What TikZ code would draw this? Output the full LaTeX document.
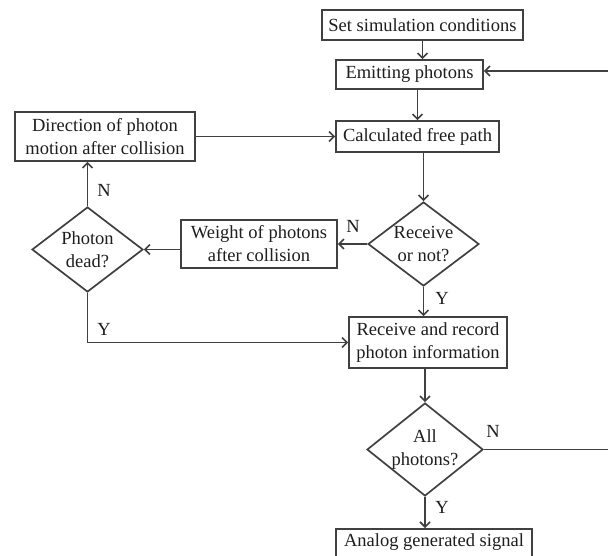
\documentclass[tikz,border=0pt]{standalone}
\usepackage{fontspec}
\setmainfont{Liberation Serif}
\usetikzlibrary{arrows.meta,shapes.geometric}
\definecolor{ln}{HTML}{404040}
\definecolor{tx}{HTML}{1E1E1E}
\tikzset{
  box/.style={draw=ln,line width=1.7pt,rectangle,inner sep=0pt,align=center,text=tx,font=\fontsize{18.5}{23}\selectfont},
  dia/.style={draw=ln,line width=1.7pt,diamond,inner sep=0pt,aspect=1},
  dtext/.style={inner sep=0pt,align=center,text=tx,font=\fontsize{18.5}{23}\selectfont},
  lbl/.style={inner sep=0pt,text=tx,font=\fontsize{18.5}{23}\selectfont},
  conn/.style={draw=ln,line width=1.7pt},
  arr/.style={conn,-{Straight Barb[length=5pt,width=10pt,line width=1.6pt]}}
}
\begin{document}
\begin{tikzpicture}[x=1pt,y=-1pt]
\useasboundingbox (0,0) rectangle (608,555);
\clip (0,0) rectangle (608,555);
\fill[white] (0,0) rectangle (608,555);
% boxes
\node[box,minimum width=201pt,minimum height=30pt] (set) at (422.5,25) {Set simulation conditions};
\node[box,minimum width=147pt,minimum height=29pt] (emit) at (409.5,74.5) {Emitting photons};
\node[box,minimum width=163pt,minimum height=31pt] (calc) at (417.5,136.5) {Calculated free path};
\node[box,minimum width=180pt,minimum height=49pt] (dir) at (105,136.5) {Direction of photon\\motion after collision};
\node[box,minimum width=156pt,minimum height=48pt] (weight) at (259,244) {Weight of photons\\after collision};
\node[box,minimum width=158pt,minimum height=51pt] (rec) at (428,342.5) {Receive and record\\photon information};
\node[box,minimum width=196pt,minimum height=44pt,anchor=north,text depth=22pt] (analog) at (434,528) {Analog generated signal};
% diamonds
\node[dia,minimum width=111pt,minimum height=85pt] (pdead) at (87.5,249.5) {};
\node[dtext] (pdeadt) at (87.5,249.5) {Photon\\dead?};
\node[dia,minimum width=111pt,minimum height=84pt] (recv) at (423.5,244) {};
\node[dtext] (recvt) at (423.5,244) {Receive\\or not?};
\node[dia,minimum width=116pt,minimum height=93pt] (all) at (425,449.5) {};
\node[dtext] (allt) at (425,449.5) {All\\photons?};
% labels
\node[lbl] (l1) at (353,226) {N};
\node[lbl] (l2) at (442,298) {Y};
\node[lbl] (l3) at (104,190) {N};
\node[lbl] (l4) at (104,329) {Y};
\node[lbl] (l5) at (493,431) {N};
\node[lbl] (l6) at (442,507) {Y};
% connectors
\coordinate (rc1) at (612,449.5);
\coordinate (rc2) at (612,71);
\draw[arr] (set.south) -- (set.south |- emit.north);
\draw[arr] (calc.north |- emit.south) -- (calc.north);
\draw[arr] (recv.north |- calc.south) -- (recv.north);
\draw[arr] (recv.west) -- (recv.west -| weight.east);
\draw[arr] (weight.west |- pdead.east) -- (pdead.east);
\draw[arr] (pdead.north) -- (pdead.north |- dir.south);
\draw[arr] (dir.east) -- (dir.east -| calc.west);
\draw[arr] (pdead.south) -- (pdead.south |- rec.west) -- (rec.west);
\draw[arr] (recv.south) -- (recv.south |- rec.north);
\draw[arr] (all.north |- rec.south) -- (all.north);
\draw[arr] (all.south) -- (all.south |- analog.north);
\draw[arr] (all.east) -- (rc1) -- (rc2) -- (rc2 -| emit.east);
\end{tikzpicture}
\end{document}
